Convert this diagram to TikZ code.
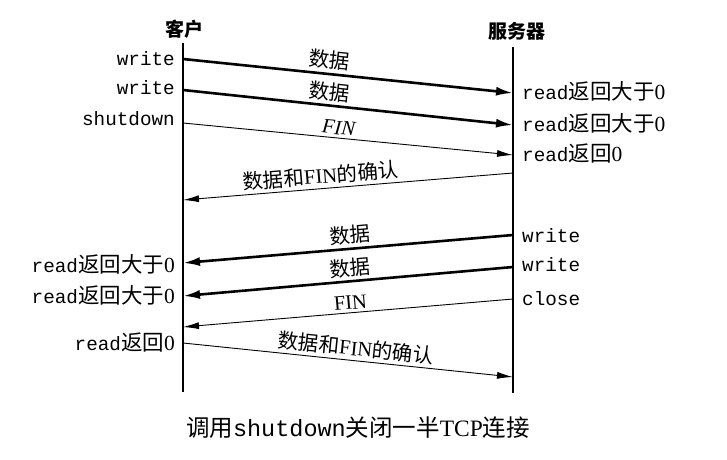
\documentclass[tikz,border=0pt]{standalone}
\usepackage{fontspec}
\setmainfont{Liberation Serif}
\setmonofont{Liberation Mono}
\newfontfamily\cjk{Noto Sans CJK SC}
\usetikzlibrary{arrows.meta}
\newcommand\zh[1]{{\cjk #1}}
\newcommand\mono[1]{{\fontsize{19.3}{20}\selectfont\ttfamily #1}}
\begin{document}
\begin{tikzpicture}[x=1pt,y=-1pt,
  life/.style={line width=1.1pt},
  heavy/.style={line width=2.6pt,-{Latex[length=17pt,width=9pt]}},
  light/.style={line width=0.9pt,-{Latex[length=16pt,width=7pt]}},
  lbl/.style={font=\fontsize{21.5}{22}\selectfont, inner sep=0pt},
  lblL/.style={lbl, anchor=base east},
  lblR/.style={lbl, anchor=base west},
  mlab/.style={sloped, above, font=\fontsize{20.5}{22}\selectfont, inner sep=3pt},
  head/.style={font=\fontsize{19}{20}\selectfont\cjk\bfseries, inner sep=0pt}]
\useasboundingbox (0,0) rectangle (727,459);
\fill[white] (0,0) rectangle (727,459);

% headers
\node[head] (hc) at (184,29) {客户};
\node[head] (hs) at (517,31) {服务器};

% lifelines
\coordinate (ctop) at (183,43);
\coordinate (cbot) at (183,392);
\coordinate (stop) at (513,47);
\coordinate (sbot) at (513,393);
\draw[life] (ctop) -- (cbot);
\draw[life] (stop) -- (sbot);

% message endpoints
\coordinate (c1) at (183,59);  \coordinate (s1) at (513,93);
\coordinate (c2) at (183,90);  \coordinate (s2) at (513,125);
\coordinate (c3) at (183,123); \coordinate (s3) at (513,155);
\coordinate (s4) at (513,173); \coordinate (c4) at (183,200);
\coordinate (s5) at (513,235); \coordinate (c5) at (183,263);
\coordinate (s6) at (513,267); \coordinate (c6) at (183,296);
\coordinate (s7) at (513,299); \coordinate (c7) at (183,327);
\coordinate (c8) at (183,343); \coordinate (s8) at (513,377);

% messages
\draw[heavy] (c1) -- node[mlab,pos=0.44] (m1) {\zh{数据}} (s1);
\draw[heavy] (c2) -- node[mlab,pos=0.44] (m2) {\zh{数据}} (s2);
\draw[light] (c3) -- node[mlab,pos=0.47] (m3) {\textit{FIN}} (s3);
\draw[light] (s4) -- node[mlab,pos=0.58] (m4) {\zh{数据和}FIN\zh{的确认}} (c4);
\draw[heavy] (s5) -- node[mlab,pos=0.49] (m5) {\zh{数据}} (c5);
\draw[heavy] (s6) -- node[mlab,pos=0.49] (m6) {\zh{数据}} (c6);
\draw[light] (s7) -- node[mlab,pos=0.49] (m7) {FIN} (c7);
\draw[light] (c8) -- node[mlab,pos=0.52] (m8) {\zh{数据和}FIN\zh{的确认}} (s8);

% client side labels
\node[lblL] (lw1) at (175,65) {\mono{write}};
\node[lblL] (lw2) at (175,94) {\mono{write}};
\node[lblL] (lsd) at (175,125) {\mono{shutdown}};
\node[lblL] (lr1) at (175,272) {\mono{read}\zh{返回大于}0};
\node[lblL] (lr2) at (175,303) {\mono{read}\zh{返回大于}0};
\node[lblL] (lr0) at (175,350) {\mono{read}\zh{返回}0};

% server side labels
\node[lblR] (rr1) at (522,99) {\mono{read}\zh{返回大于}0};
\node[lblR] (rr2) at (522,131) {\mono{read}\zh{返回大于}0};
\node[lblR] (rr0) at (522,161) {\mono{read}\zh{返回}0};
\node[lblR] (rw1) at (522,242) {\mono{write}};
\node[lblR] (rw2) at (522,271) {\mono{write}};
\node[lblR] (rcl) at (522,305) {\mono{close}};

% caption
\node[font=\fontsize{23.5}{25}\selectfont, inner sep=0pt] (cap) at (358,428)
  {\zh{调用}\texttt{shutdown}\zh{关闭一半}TCP\zh{连接}};
\end{tikzpicture}
\end{document}
